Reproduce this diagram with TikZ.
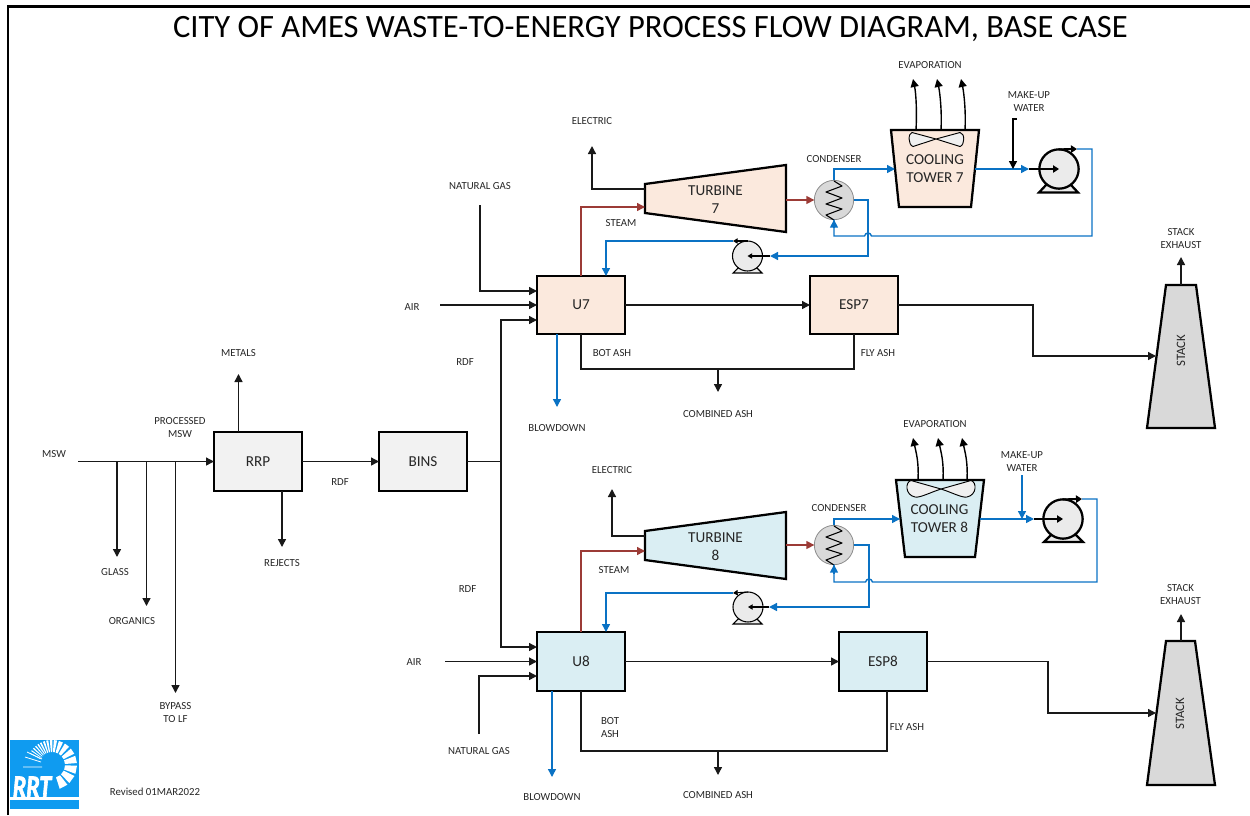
\documentclass[tikz,border=0pt]{standalone}
\usepackage{fontspec}
\setmainfont{Carlito}
\newfontfamily\logofont[FakeBold=2.5]{Carlito}
\usetikzlibrary{arrows.meta,calc}
\definecolor{peach}{HTML}{FBE9DD}
\definecolor{pale}{HTML}{DAEEF3}
\definecolor{cwblue}{HTML}{0A72C4}
\definecolor{steamred}{HTML}{9C3B36}
\definecolor{logoblue}{HTML}{0F9BF0}
\definecolor{txt}{HTML}{262626}
\tikzset{
  x=0.75pt,y=-0.75pt,
  lbl/.style={font=\fontsize{8.1}{9.75}\selectfont,align=center,inner sep=0pt,text=txt,yshift=-0.5pt},
  unit/.style={draw=black,line width=1.7pt,minimum width=66pt,minimum height=44pt,inner sep=0pt,outer sep=0pt,font=\fontsize{11.4}{13.5}\selectfont,text=txt,align=center},
  shapeline/.style={draw=black,line width=1.7pt,line join=miter},
  big/.style={font=\fontsize{11.4}{13.5}\selectfont,align=center,inner sep=0pt,text=txt},
  tip/.style={-{Triangle[length=6pt,width=6pt]}},
  flow/.style={draw=black!90,line width=1.05pt},
  flowa/.style={flow,tip},
  cw/.style={draw=cwblue,line width=1.05pt},
  cwa/.style={cw,tip},
  stm/.style={draw=steamred,line width=1.05pt,tip},
  cond/.style={circle,draw=black!45,line width=0.6pt,fill=black!15,minimum size=29.5pt,inner sep=0pt,outer sep=0pt},
  pumpbig/.style={circle,draw=black,line width=1.7pt,fill=black!8,minimum size=29.5pt,inner sep=0pt,outer sep=0pt},
  pumpsmall/.style={circle,draw=black,line width=0.8pt,fill=black!8,minimum size=22.5pt,inner sep=0pt,outer sep=0pt},
}
\newcommand{\coilat}[1]{\draw[black,line width=0.8pt,line join=round] ([shift={(0,-19)}]#1.center) -- ++(8,5) -- ++(-16,6) -- ++(16,6) -- ++(-16,6) -- ++(16,5) -- ++(-16,6) -- ++(8,5);}
\begin{document}
\begin{tikzpicture}
\useasboundingbox (0,0) rectangle (1250,815);
% frame
\coordinate (frameA) at (8,815);
\coordinate (frameB) at (8,6.5);
\coordinate (frameC) at (1250,6.5);
\draw[black,line width=1.6pt] (frameA) -- (frameB) -- (frameC);
\node[inner sep=0pt,font=\fontsize{24.4}{26}\selectfont] (title) at (650.5,29.5) {CITY OF AMES WASTE-TO-ENERGY PROCESS FLOW DIAGRAM, BASE CASE};

% units
\node[unit,fill=black!5] (rrp) at (258,461.5) {RRP};
\node[unit,fill=black!5] (bins) at (423,461.5) {BINS};
\node[unit,fill=peach] (u7) at (581,305) {U7};
\node[unit,fill=peach] (esp7) at (854,305) {ESP7};
\node[unit,fill=pale] (u8) at (581,661.5) {U8};
\node[unit,fill=pale] (esp8) at (883,661.5) {ESP8};

% turbines
\draw[shapeline,fill=peach] (645,184) -- (786,165) -- (786,232) -- (645,213) -- cycle;
\node[big] (turb7) at (715.5,200) {TURBINE\\7};
\draw[shapeline,fill=pale] (645,531) -- (786,512) -- (786,579) -- (645,560) -- cycle;
\node[big] (turb8) at (715.5,547) {TURBINE\\8};
\coordinate (t7in) at (645,207);  \coordinate (t7out) at (786,200); \coordinate (t7el) at (645,189);
\coordinate (t8in) at (645,551);  \coordinate (t8out) at (786,545); \coordinate (t8el) at (645,536);

% cooling towers
\draw[shapeline,fill=peach] (891,130) -- (979,130) -- (971,207) -- (899,207) -- cycle;
\draw[black,line width=0.7pt,fill=black!6] (936,139) -- (912,132.5) .. controls (908,133) and (908,145) .. (913,146.5) -- (936,139) -- (960,132.5) .. controls (965,133) and (965,145) .. (960,146.5) -- cycle;
\node[big] (ct7) at (935,168.5) {COOLING\\TOWER 7};
\draw[shapeline,fill=pale] (896,480) -- (984,480) -- (975,557) -- (905,557) -- cycle;
\draw[black,line width=0.7pt,fill=black!6] (941,489) -- (911,480.5) .. controls (905,482) and (905,495) .. (915,497) .. controls (920,498) and (930,492.5) .. (941,489) -- (971,480.5) .. controls (977,482) and (977,495) .. (967,497) .. controls (962,498) and (952,492.5) .. (941,489) -- cycle;
\node[big] (ct8) at (939.5,519) {COOLING\\TOWER 8};
\coordinate (ct7in) at (895,169); \coordinate (ct7out) at (975,169);
\coordinate (ct8in) at (900,519); \coordinate (ct8out) at (980,519);

% condensers
\node[cond] (cond7) at (834,200) {};
\coilat{cond7}
\node[cond] (cond8) at (834,545) {};
\coilat{cond8}

% pumps
\draw[black,line width=1.7pt,fill=black!8] (1039,192.5) -- (1078,192.5) -- (1071,185) -- (1046,185) -- cycle;
\node[pumpbig] (pb7) at (1059,169) {};
\draw[black,line width=1.7pt,fill=black!8] (1044,542) -- (1083,542) -- (1076,535) -- (1051,535) -- cycle;
\node[pumpbig] (pb8) at (1063,519) {};
\draw[black,line width=0.8pt,fill=black!8] (733,273) -- (762,273) -- (757,268) -- (738,268) -- cycle;
\node[pumpsmall] (ps7) at (747.5,256) {};
\draw[black,line width=0.8pt,fill=black!8] (733,624) -- (762,624) -- (757,619) -- (738,619) -- cycle;
\node[pumpsmall] (ps8) at (748,607) {};

% stacks
\draw[shapeline,fill=black!15] (1166,285) -- (1196,285) -- (1215,428) -- (1147,428) -- cycle;
\node[lbl,rotate=90,font=\fontsize{9.6}{10}\selectfont] (st7) at (1181,350) {STACK};
\draw[shapeline,fill=black!15] (1166,641) -- (1195,641) -- (1215,785) -- (1147,785) -- cycle;
\node[lbl,rotate=90,font=\fontsize{9.6}{10}\selectfont] (st8) at (1180,713) {STACK};
\coordinate (s7top) at (1181,285); \coordinate (s7in) at (1156,356);
\coordinate (s8top) at (1181,641); \coordinate (s8in) at (1156,713);

% free ends
\coordinate (msw0) at (78,461.5);
\coordinate (j1) at (117,461.5); \coordinate (j2) at (146.5,461.5); \coordinate (j3) at (175.5,461.5);
\coordinate (glassE) at (117,557); \coordinate (orgE) at (146.5,606); \coordinate (bypE) at (175.5,693);
\coordinate (metE) at (238.5,374); \coordinate (rrpT) at (238.5,432);
\coordinate (rejE) at (282,547); \coordinate (rrpB) at (282,491);
\coordinate (rdfJ) at (501,461.5);
\coordinate (u7i1) at (537,291); \coordinate (u7i2) at (537,305); \coordinate (u7i3) at (537,320);
\coordinate (u8i1) at (537,647); \coordinate (u8i2) at (537,661.5); \coordinate (u8i3) at (537,676);
\coordinate (ng7) at (480,205); \coordinate (air7) at (440,305);
\coordinate (ng8) at (479,734); \coordinate (air8) at (445,661.5);
\coordinate (el7) at (592,146); \coordinate (el8) at (612,489);
\coordinate (bd7a) at (557,334); \coordinate (bd7) at (557,407);
\coordinate (bd8a) at (552,691); \coordinate (bd8) at (552,777);
\coordinate (ash7a) at (718,369); \coordinate (ash7) at (718,392);
\coordinate (ash8a) at (718,751); \coordinate (ash8) at (718,775);
\coordinate (sx7) at (1181,257); \coordinate (sx8) at (1181,614);
\coordinate (bot7) at (581,369); \coordinate (bot8) at (581,751);
\coordinate (fly7) at (854,369); \coordinate (fly8) at (887,751);
\coordinate (mk7) at (1017,119); \coordinate (mk7e) at (1013,169);
\coordinate (mk8) at (1022,475); \coordinate (mk8e) at (1022,519);
\coordinate (pb7o) at (1077,149); \coordinate (pb8o) at (1082,499);
\coordinate (pb7i) at (1029,169); \coordinate (pb8i) at (1034,519);
\coordinate (ps7o) at (733,241); \coordinate (ps8o) at (733,593);
\coordinate (ps7i) at (770,256); \coordinate (ps8i) at (769,607);
\coordinate (u7w) at (606,276); \coordinate (u8w) at (606,632);
\coordinate (c7tr) at (868,256); \coordinate (c8tr) at (869,607);
\coordinate (hop7a) at (871.5,236); \coordinate (hop7b) at (864.5,236);
\coordinate (hop8a) at (872.5,582); \coordinate (hop8b) at (865.5,582);
\coordinate (ret7) at (1092,236); \coordinate (ret8) at (1097,582);

% main black flows
\draw[flowa] (msw0) -- (rrp.west);
\draw[flowa] (j1) -- (glassE);
\draw[flowa] (j2) -- (orgE);
\draw[flowa] (j3) -- (bypE);
\draw[flowa] (rrpT) -- (metE);
\draw[flowa] (rrpB) -- (rejE);
\draw[flowa] (rrp.east) -- (bins.west);
\draw[flow,line width=1.4pt] (bins.east) -- (rdfJ);
\draw[flowa] (rdfJ) |- (u7i3);
\draw[flowa] (rdfJ) |- (u8i1);
\draw[flowa] (ng7) |- (u7i1);
\draw[flowa] (air7) -- (u7i2);
\draw[flowa] (ng8) |- (u8i3);
\draw[flowa] (air8) -- (u8i2);
\draw[flowa] (u7.east) -- (esp7.west);
\draw[flowa] (u8.east) -- (esp8.west);
\draw[flowa] (esp7.east) -| (1033,356) -- (s7in);
\draw[flowa] (esp8.east) -| (1048,713) -- (s8in);
\draw[flowa] (s7top) -- (sx7);
\draw[flowa] (s8top) -- (sx8);
\draw[flowa] (t7el) -| (el7);
\draw[flowa] (t8el) -| (el8);
\draw[flow] (u7.south) |- (fly7) -- (esp7.south);
\draw[flow] (u8.south) |- (fly8) -- (fly8 |- esp8.south);
\draw[flowa] (ash7a) -- (ash7);
\draw[flowa] (ash8a) -- (ash8);

% steam
\draw[stm] (u7.north) |- (t7in);
\draw[stm] (u8.north) |- (t8in);
\draw[stm] (t7out) -- (cond7.west);
\draw[stm] (t8out) -- (cond8.west);

% cooling water
\draw[cwa] (bd7a) -- (bd7);
\draw[cwa] (bd8a) -- (bd8);
\draw[cwa] (cond7.north) |- (ct7in);
\draw[cwa] (cond8.north) |- (ct8in);
\draw[cwa] (ct7out) -- (pb7i);
\draw[cwa] (ct8out) -- (pb8i);
\draw[cwa] (mk8) -- (mk8e);
\draw[flowa,black] (mk7) -| (mk7e);
\draw[cw] (pb7o) -| (ret7) -- (hop7a) .. controls (870.5,232) and (865.5,232) .. (hop7b) -| (cond7.south);
\draw[cw] (pb8o) -| (ret8) -- (hop8a) .. controls (871.5,578) and (866.5,578) .. (hop8b) -| (cond8.south);
\draw[cwa] (cond7.south |- 0,228) -- (cond7.south);
\draw[cwa] (cond8.south |- 0,574) -- (cond8.south);
\draw[cwa] (cond7.east) -| (c7tr) -- (ps7i);
\draw[cwa] (cond8.east) -| (c8tr) -- (ps8i);
\draw[cwa] (ps7o) -| (u7w);
\draw[cwa] (ps8o) -| (u8w);

% pump internals
\draw[black,line width=1.5pt,-{Triangle[length=4.5pt,width=5.5pt]}] (pb7i) -- (pb7.center);
\draw[black,line width=1.5pt,-{Triangle[length=4.5pt,width=5.5pt]}] (pb8i) -- (pb8.center);
\draw[black,line width=1.5pt,-{Triangle[length=4.5pt,width=5.5pt]}] (pb7.north) -- (pb7o);
\draw[black,line width=1.5pt,-{Triangle[length=4.5pt,width=5.5pt]}] (pb8.north) -- (pb8o);
\draw[black,line width=0.8pt,-{Triangle[length=3.5pt,width=4pt]}] (ps7i) -- (ps7.center);
\draw[black,line width=0.8pt,-{Triangle[length=3.5pt,width=4pt]}] (ps8i) -- (ps8.center);
\draw[black,line width=0.8pt,-{Triangle[length=3.5pt,width=4pt]}] (ps7.north) -- (ps7o);
\draw[black,line width=0.8pt,-{Triangle[length=3.5pt,width=4pt]}] (ps8.north) -- (ps8o);

% evaporation
\coordinate (e71) at (916,130); \coordinate (e71t) at (913,79);
\coordinate (e72) at (941,130); \coordinate (e72t) at (937,79);
\coordinate (e73) at (965,130); \coordinate (e73t) at (961,79);
\coordinate (e81) at (918,480); \coordinate (e81t) at (913,438);
\coordinate (e82) at (943,480); \coordinate (e82t) at (938,438);
\coordinate (e83) at (967,480); \coordinate (e83t) at (962,438);
\foreach \a/\b in {e71/e71t,e72/e72t,e73/e73t,e81/e81t,e82/e82t,e83/e83t}
  \draw[flowa,black] (\a) .. controls ($(\a)+(1,-18)$) and ($(\b)+(3,14)$) .. (\b);

% labels
\node[lbl] (lEv7) at (930,64.5) {EVAPORATION};
\node[lbl] (lEv8) at (935,423) {EVAPORATION};
\node[lbl] (lMk7) at (1029,101) {MAKE-UP\\WATER};
\node[lbl] (lMk8) at (1022,460.5) {MAKE-UP\\WATER};
\node[lbl] (lCo7) at (834,158.5) {CONDENSER};
\node[lbl] (lCo8) at (839,507) {CONDENSER};
\node[lbl] (lEl7) at (592,120.5) {ELECTRIC};
\node[lbl] (lEl8) at (612,469) {ELECTRIC};
\node[lbl] (lNg7) at (480,185) {NATURAL GAS};
\node[lbl] (lNg8) at (479,750.5) {NATURAL GAS};
\node[lbl] (lSt7) at (621,222) {STEAM};
\node[lbl] (lSt8) at (614,569.5) {STEAM};
\node[lbl] (lAi7) at (412,306) {AIR};
\node[lbl] (lAi8) at (414,661.5) {AIR};
\node[lbl] (lRd1) at (465,361.5) {RDF};
\node[lbl] (lRd2) at (467.5,588.5) {RDF};
\node[lbl] (lRd3) at (340,481) {RDF};
\node[lbl] (lMet) at (238.5,352.5) {METALS};
\node[lbl] (lPro) at (180,427) {PROCESSED\\MSW};
\node[lbl] (lMsw) at (54,453.5) {MSW};
\node[lbl] (lGla) at (115,571.5) {GLASS};
\node[lbl] (lOrg) at (132,620.5) {ORGANICS};
\node[lbl] (lByp) at (175.5,711.5) {BYPASS\\TO LF};
\node[lbl] (lRej) at (282,562.5) {REJECTS};
\node[lbl] (lBa7) at (612,352.5) {BOT ASH};
\node[lbl] (lFa7) at (878,352.5) {FLY ASH};
\node[lbl] (lCa7) at (718,413) {COMBINED ASH};
\node[lbl] (lBd7) at (557,427.5) {BLOWDOWN};
\node[lbl] (lBa8) at (610,727) {BOT\\ASH};
\node[lbl] (lFa8) at (907,726.5) {FLY ASH};
\node[lbl] (lCa8) at (718,794.5) {COMBINED ASH};
\node[lbl] (lBd8) at (552,796.5) {BLOWDOWN};
\node[lbl] (lSx7) at (1181,237.5) {STACK\\EXHAUST};
\node[lbl] (lSx8) at (1180.5,594) {STACK\\EXHAUST};
\node[lbl] (lRev) at (155,791.5) {Revised 01MAR2022};

% logo
\fill[logoblue] (10,740) rectangle (79,809);
\fill[white] (10,797) rectangle (79,799.5);
\begin{scope}[shift={(52,765)}]
  \foreach \a/\w in {152/2,145/2.5,138/3,131/3,124/3.5,117/4,109/4.5,101/5,92/6,82/7.5,69/10,53/12,34/14,13/17,-11/19,-36/20,-62/20}{
    \fill[white] (\a-\w/2:13 and -13) -- (\a-\w/2:25 and -25) -- (\a+\w/2:25 and -25) -- (\a+\w/2:13 and -13) -- cycle;
  }
\end{scope}
\coordinate (bot1) at (23,767);
\coordinate (bot2) at (42,767);
\draw[white,line width=0.6pt] (bot1) -- (bot2) (25,757) -- (41,762) (27,752) -- (42,759);
\node[inner sep=0pt,text=white,font=\logofont\fontsize{24}{24}\bfseries\itshape\selectfont,transform shape,xscale=.75] (logoT) at (32,787) {RRT};
\end{tikzpicture}
\end{document}
